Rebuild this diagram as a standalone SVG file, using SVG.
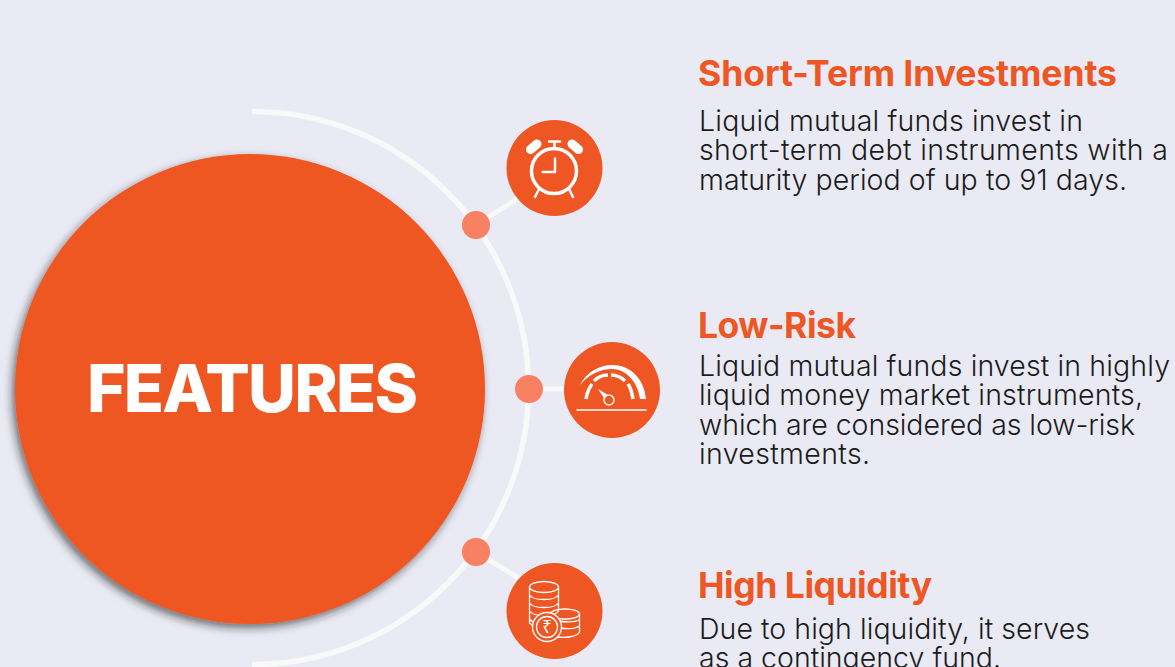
<svg xmlns="http://www.w3.org/2000/svg" width="1175" height="667" viewBox="0 0 1175 667">
<style>
text{font-family:"Inter","Roboto","Liberation Sans",sans-serif}
.h{font-size:35.500px;font-weight:700;fill:#ee5623}
.b{font-size:28.500px;fill:#1c1c1c;font-weight:300}
.w{fill:none;stroke:#fff;stroke-linecap:round;stroke-linejoin:round}
.conn{fill:none;stroke:#f8f9f8}
.dot{fill:#f98163}
.disc{fill:#ee5623}
</style>
<defs><filter id="sh" x="-10%" y="-10%" width="120%" height="120%"><feDropShadow dx="-3" dy="4" stdDeviation="4" flood-color="#222" flood-opacity=".6"/></filter></defs>
<rect width="1175" height="667" fill="#e9eaf4"/>
<g id="connectors">
<path class="conn" stroke-width="5.500" d="M252 111.500A276.500 276.500 0 0 1 252 664.500"/>
<path class="conn" stroke-width="5" d="M476 225L520 197M529 389H570M476 552L520 579"/>
</g>
<g id="features"><circle cx="250" cy="389" r="235" fill="#ee5623" filter="url(#sh)"/><text x="87" y="412" textLength="331" font-size="66" font-weight="800" fill="#fff">FEATURES</text></g>
<g id="dot1"><circle class="dot" cx="476" cy="225" r="14"/></g>
<g id="dot2"><circle class="dot" cx="529" cy="389" r="14"/></g>
<g id="dot3"><circle class="dot" cx="476" cy="552" r="14"/></g>
<g id="node-clock"><circle class="disc" cx="554.500" cy="168" r="48"/>
<circle class="w" cx="554" cy="171" r="22.500" stroke-width="3.500"/>
<path class="w" stroke-width="2.500" d="M555 158.500V172H542.500"/>
<path class="w" stroke-width="2.500" d="M549 141.500H560M554.500 141.500V149M538.500 190L535 197M569.500 190L573 197"/>
<path class="w" stroke-width="9" d="M530.500 149.500L537 144M572 144L578.500 149.500"/></g>
<g id="node-gauge"><circle class="disc" cx="612" cy="390" r="48"/>
<path d="M580 385C586 372 600 365 612 365C630 365 644 378 646 399H640C638 382 626 369 612 369C600 369 588 375 580 385Z" fill="#fff"/>
<path class="w" style="stroke-linecap:butt" stroke-width="3.500" d="M586 399C587 393 589 388 592 384M594 381C598 377 603 375 608 375M611 375C616 375 621 377 625 381M628 384C631 388 632 393 633 399"/>
<path class="w" stroke-width="1.500" d="M577 410H646"/>
<circle class="w" cx="609" cy="400" r="5" stroke-width="1.500"/>
<path d="M598 389L608 395L604 398Z" fill="#fff"/></g>
<g id="node-coins"><circle class="disc" cx="554.500" cy="611" r="48"/>
<g class="w" stroke-width="1.300"><ellipse cx="544" cy="587" rx="14.500" ry="5.500"/>
<path d="M529.500 587V623L533 626M558.500 587V611M529.500 595C533 601 555 601 558.500 595M529.500 603C533 609 555 609 558.500 603M529.500 611C533 617 555 617 558.500 611M529.500 619C531 621 533 622 535 622"/>
<ellipse cx="565" cy="614" rx="14.500" ry="5"/><path d="M579.500 614V632C577 637 565 638 557 637M558 621C565 622 575 622 579.500 620M560 628C567 629 575 629 579.500 626"/>
<circle cx="547" cy="627" r="14.500" fill="#ee5623"/><circle cx="547" cy="627" r="10.500"/></g>
<text x="547" y="633" text-anchor="middle" font-size="17" fill="#fff" style="font-family:'Noto Sans','DejaVu Sans',sans-serif">₹</text></g>
<g id="text1"><text class="h" x="698" y="86" textLength="419">Short-Term Investments</text>
<text class="b" x="699" y="131" textLength="384">Liquid mutual funds invest in</text><text class="b" x="699" y="160" textLength="469">short-term debt instruments with a</text><text class="b" x="699" y="190" textLength="428">maturity period of up to 91 days.</text></g>
<g id="text2"><text class="h" x="698" y="338" textLength="158">Low-Risk</text>
<text class="b" x="699" y="376" textLength="471">Liquid mutual funds invest in highly</text><text class="b" x="699" y="405" textLength="444">liquid money market instruments,</text><text class="b" x="699" y="435" textLength="436">which are considered as low-risk</text><text class="b" x="699" y="464" textLength="171">investments.</text></g>
<g id="text3"><text class="h" x="698" y="598" textLength="234">High Liquidity</text>
<text class="b" x="699" y="639" textLength="391">Due to high liquidity, it serves</text><text class="b" x="699" y="668" textLength="302">as a contingency fund.</text></g>
</svg>
